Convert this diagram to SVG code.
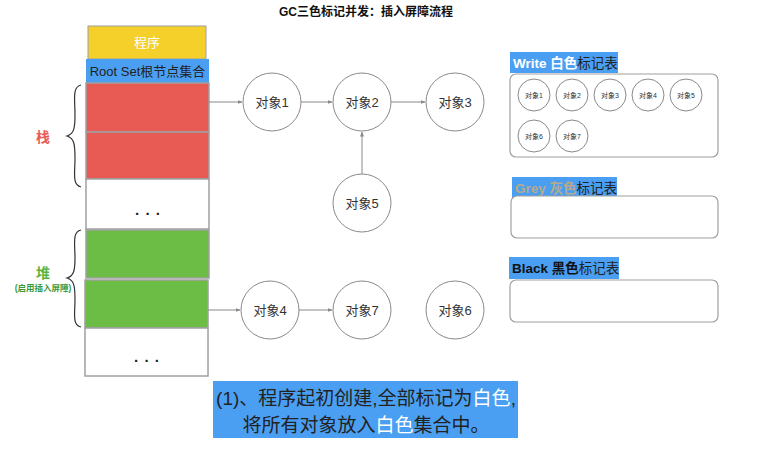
<svg xmlns="http://www.w3.org/2000/svg" width="776" height="450" viewBox="0 0 776 450">
<defs>
<marker id="arr" viewBox="0 0 10 10" refX="9" refY="5" markerWidth="5" markerHeight="5" orient="auto">
<path d="M0,1 L10,5 L0,9 z" fill="#888"/>
</marker>
<style>
text{font-family:"Liberation Sans","Noto Sans CJK SC",sans-serif;}
.cell{stroke:#a0a0a0;stroke-width:1.5;}
.node{fill:#fff;stroke:#8a8a8a;stroke-width:1;}
.nt{font-size:13px;fill:#333;text-anchor:middle;dominant-baseline:central;}
.sn{fill:#fff;stroke:#8a8a8a;stroke-width:1;}
.st{font-size:7px;fill:#333;text-anchor:middle;dominant-baseline:central;}
.edge{stroke:#888;stroke-width:1;fill:none;marker-end:url(#arr);}
.brace{stroke:#333;stroke-width:1.2;fill:none;}
.tbl{fill:#fff;stroke:#a0a0a0;stroke-width:1.2;}
.lab{fill:#4a9ff2;}
.dots{font-size:15px;font-weight:bold;fill:#222;text-anchor:middle;letter-spacing:1px;}
</style>
</defs>
<rect width="776" height="450" fill="#fff"/>
<text x="366" y="16" font-size="12" font-weight="bold" fill="#111" text-anchor="middle">GC三色标记并发：插入屏障流程</text>

<g id="program">
<rect x="88" y="26" width="118" height="33" fill="#f5cf2a" stroke="#a0a0a0" stroke-width="1"/>
<text x="147" y="47" font-size="13" fill="#fff" text-anchor="middle">程序</text>
</g>
<g id="rootset">
<rect x="86" y="59" width="123" height="24" fill="#4a9ff2"/>
<text x="147.5" y="76" font-size="13" fill="#222" text-anchor="middle">Root Set根节点集合</text>
</g>
<g id="stack1"><rect class="cell" x="86" y="83" width="123" height="49" fill="#e85b54"/></g>
<g id="stack2"><rect class="cell" x="86" y="132" width="123" height="47" fill="#e85b54"/></g>
<g id="dots1"><rect class="cell" x="86" y="179" width="123" height="50" fill="#fff"/>
<text class="dots" x="148" y="215">. . .</text></g>
<g id="heap1"><rect class="cell" x="86" y="230" width="123" height="48" fill="#6cbd45"/></g>
<g id="heap2"><rect class="cell" x="85" y="280" width="123" height="48" fill="#6cbd45"/></g>
<g id="dots2"><rect class="cell" x="85" y="328" width="123" height="48" fill="#fff"/>
<text class="dots" x="147" y="362">. . .</text></g>

<g id="stack-label">
<path class="brace" d="M81,85 C72,87 75,100 75,115 C75,128 74,134 67,136 C74,138 75,144 75,158 C75,173 72,185 81,187"/>
<text x="43" y="142" font-size="14" font-weight="bold" fill="#e85b54" text-anchor="middle">栈</text>
</g>
<g id="heap-label">
<path class="brace" d="M81,230 C72,232 75,244 75,258 C75,270 74,276 67,278 C74,280 75,286 75,299 C75,314 72,325 81,327"/>
<text x="43" y="278" font-size="14" font-weight="bold" fill="#5bb33e" text-anchor="middle">堆</text>
<text x="43" y="291" font-size="8.5" font-weight="bold" fill="#3a9a3a" text-anchor="middle">(启用插入屏障)</text>
</g>

<g id="edges">
<line class="edge" x1="209" y1="102" x2="242" y2="102"/>
<line class="edge" x1="301" y1="102" x2="332" y2="102"/>
<line class="edge" x1="391" y1="102" x2="425" y2="102"/>
<line class="edge" x1="362" y1="174" x2="362" y2="132"/>
<line class="edge" x1="208" y1="310" x2="240" y2="310"/>
<line class="edge" x1="299" y1="310" x2="332" y2="310"/>
</g>

<g id="obj1"><circle class="node" cx="272" cy="102" r="29"/><text class="nt" x="272" y="102">对象1</text></g>
<g id="obj2"><circle class="node" cx="362" cy="102" r="29"/><text class="nt" x="362" y="102">对象2</text></g>
<g id="obj3"><circle class="node" cx="455" cy="102" r="29"/><text class="nt" x="455" y="102">对象3</text></g>
<g id="obj5"><circle class="node" cx="362" cy="203" r="29"/><text class="nt" x="362" y="203">对象5</text></g>
<g id="obj4"><circle class="node" cx="270" cy="310" r="29"/><text class="nt" x="270" y="310">对象4</text></g>
<g id="obj7"><circle class="node" cx="362" cy="310" r="29"/><text class="nt" x="362" y="310">对象7</text></g>
<g id="obj6"><circle class="node" cx="455" cy="310" r="29"/><text class="nt" x="455" y="310">对象6</text></g>

<g id="white-table">
<rect class="lab" x="510" y="52" width="108" height="21"/>
<text x="513" y="68" font-size="13.5" font-weight="bold" fill="#fff">Write 白色<tspan font-weight="normal" fill="#222">标记表</tspan></text>
<rect class="tbl" x="510" y="74" width="208" height="83" rx="6"/>
<circle class="sn" cx="534" cy="95" r="16"/><text class="st" x="534" y="95">对象1</text>
<circle class="sn" cx="572" cy="95" r="16"/><text class="st" x="572" y="95">对象2</text>
<circle class="sn" cx="610" cy="95" r="16"/><text class="st" x="610" y="95">对象3</text>
<circle class="sn" cx="648" cy="95" r="16"/><text class="st" x="648" y="95">对象4</text>
<circle class="sn" cx="686" cy="95" r="16"/><text class="st" x="686" y="95">对象5</text>
<circle class="sn" cx="534" cy="136" r="16"/><text class="st" x="534" y="136">对象6</text>
<circle class="sn" cx="572" cy="136" r="16"/><text class="st" x="572" y="136">对象7</text>
</g>

<g id="grey-table">
<rect class="lab" x="512" y="177" width="105" height="22"/>
<text x="515" y="193" font-size="13.5" font-weight="bold" fill="#b8a98a">Grey 灰色<tspan font-weight="normal" fill="#222">标记表</tspan></text>
<rect class="tbl" x="511" y="196" width="207" height="42" rx="6"/>
</g>

<g id="black-table">
<rect class="lab" x="509" y="257" width="110" height="22"/>
<text x="512" y="273" font-size="13.5" font-weight="bold" fill="#111">Black 黑色<tspan font-weight="normal" fill="#222">标记表</tspan></text>
<rect class="tbl" x="510" y="280" width="208" height="42" rx="6"/>
</g>

<g id="caption">
<rect x="213" y="381" width="305" height="57" fill="#4a9ff2"/>
<text x="366" y="405" font-size="19" fill="#222" text-anchor="middle">(1)、程序起初创建,全部标记为<tspan fill="#fff">白色</tspan>,</text>
<text x="366" y="432" font-size="19" fill="#222" text-anchor="middle">将所有对象放入<tspan fill="#fff">白色</tspan>集合中。</text>
</g>
</svg>
